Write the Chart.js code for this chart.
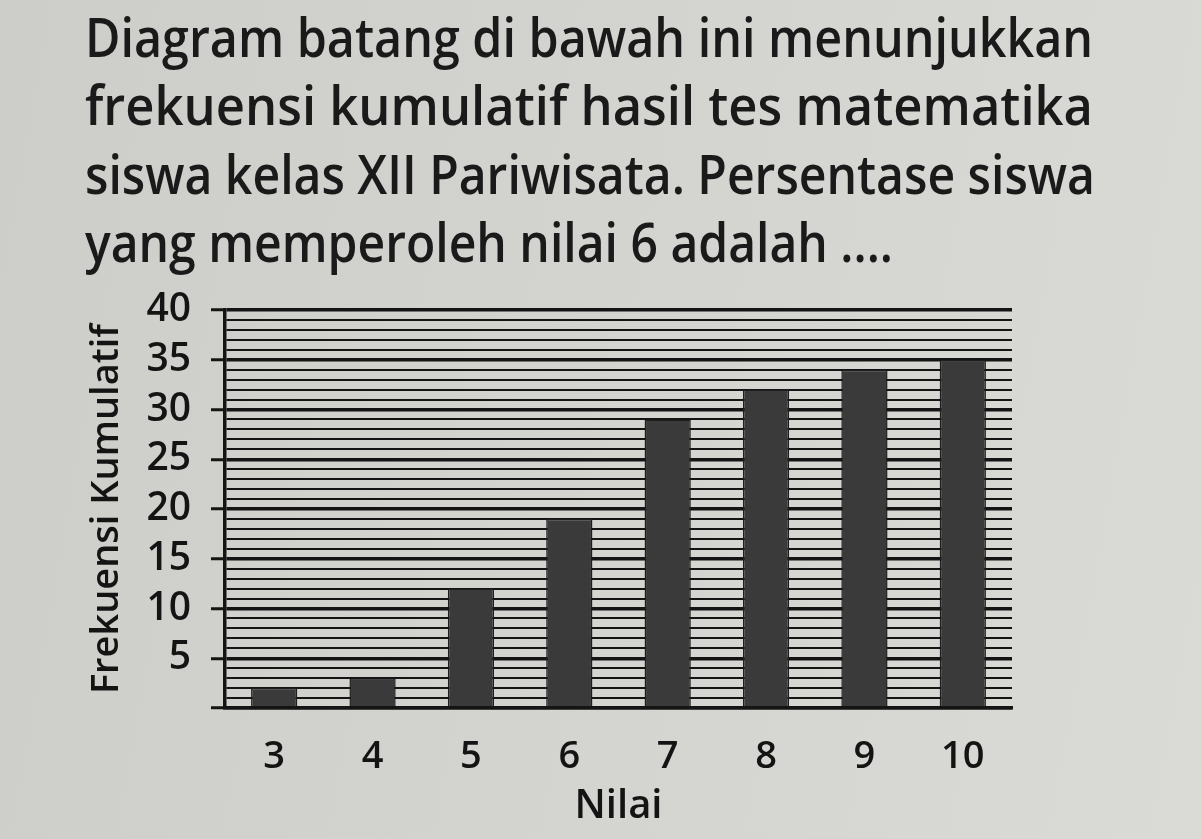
<!DOCTYPE html>
<html>
<head>
<meta charset="utf-8">
<script src="https://cdn.jsdelivr.net/npm/chart.js@4"></script>
<style>
  html, body { margin: 0; padding: 0; }
  body {
    width: 1201px; height: 839px; overflow: hidden; position: relative;
    background: linear-gradient(100deg, #cdcdc9 0%, #d4d4d0 55%, #dadad6 100%);
    font-family: 'Open Sans', sans-serif; color: #1a1a1a;
  }
  #soal { position: absolute; left: 85px; top: 2px; }
  #soal div {
    font-size: 55px; font-weight: 600; line-height: 68.3px; white-space: nowrap;
    transform-origin: 0 0; width: max-content;
  }
  #wrap { position: absolute; left: 0; top: 0; width: 1201px; height: 839px; }
</style>
</head>
<body>
<div id="soal">
  <div data-w="1008">Diagram batang di bawah ini menunjukkan</div>
  <div data-w="1008">frekuensi kumulatif hasil tes matematika</div>
  <div data-w="1010">siswa kelas XII Pariwisata. Persentase siswa</div>
  <div data-w="808">yang memperoleh nilai 6 adalah ....</div>
</div>
<div id="wrap"><canvas id="grafik"></canvas></div>
<script>
// data
var nilai = ['3', '4', '5', '6', '7', '8', '9', '10'];
var frekKumulatif = [2, 3, 12, 19, 29, 32, 34, 35];
var yMin = 0, yMax = 40, yStep = 1, labelStep = 5;

// squeeze each question line to the width it has in the book
document.querySelectorAll('#soal div').forEach(function (el) {
    var w = el.getBoundingClientRect().width;
    el.style.transform = 'scaleX(' + (el.dataset.w / w) + ')';
});

var ink = '#141414';
var isMajor = function (ctx) { return ctx.tick && ctx.tick.value % labelStep === 0; };

var grafik = new Chart(document.getElementById('grafik'), {
    type: 'bar',
    data: {
        labels: nilai,
        datasets: [{
            label: 'Frekuensi Kumulatif',
            data: frekKumulatif,
            backgroundColor: '#3a3a3a',
            borderColor: '#1e1e1e',
            borderWidth: 1.5,
            barPercentage: 0.47,
            categoryPercentage: 1
        }]
    },
    options: {
        responsive: true,
        maintainAspectRatio: false,
        animation: false,
        layout: { padding: { left: 82, right: 189, top: 310, bottom: 6 } },
        plugins: { legend: { display: false }, tooltip: { enabled: false } },
        scales: {
            x: {
                grid: { display: false, drawTicks: false },
                border: { display: true, color: ink, width: 3.5 },
                ticks: {
                    color: ink,
                    font: { family: 'Open Sans', size: 38, weight: 600 },
                    padding: 26
                },
                title: {
                    display: true,
                    text: 'Nilai',
                    color: ink,
                    font: { family: 'Open Sans', size: 40, weight: 600 },
                    padding: { top: 0, bottom: 2 }
                },
                afterFit: function (s) { s.height = 125; }
            },
            y: {
                min: yMin,
                max: yMax,
                grid: {
                    color: ink,
                    lineWidth: function (ctx) { return isMajor(ctx) ? 3.5 : 2; },
                    tickColor: function (ctx) { return isMajor(ctx) ? ink : 'rgba(0,0,0,0)'; },
                    tickWidth: 3,
                    tickLength: 14
                },
                border: { display: true, color: ink, width: 3.5 },
                ticks: {
                    stepSize: yStep,
                    autoSkip: false,
                    color: ink,
                    font: { family: 'Open Sans', size: 39, weight: 600 },
                    padding: 20,
                    callback: function (v) { return (v % labelStep === 0 && v !== 0) ? v : ''; }
                },
                title: {
                    display: true,
                    text: 'Frekuensi Kumulatif',
                    color: ink,
                    font: { family: 'Open Sans', size: 38, weight: 600 },
                    padding: { top: 2, bottom: 0 }
                },
                afterFit: function (s) { s.width = 143; }
            }
        }
    }
});
</script>
</body>
</html>
